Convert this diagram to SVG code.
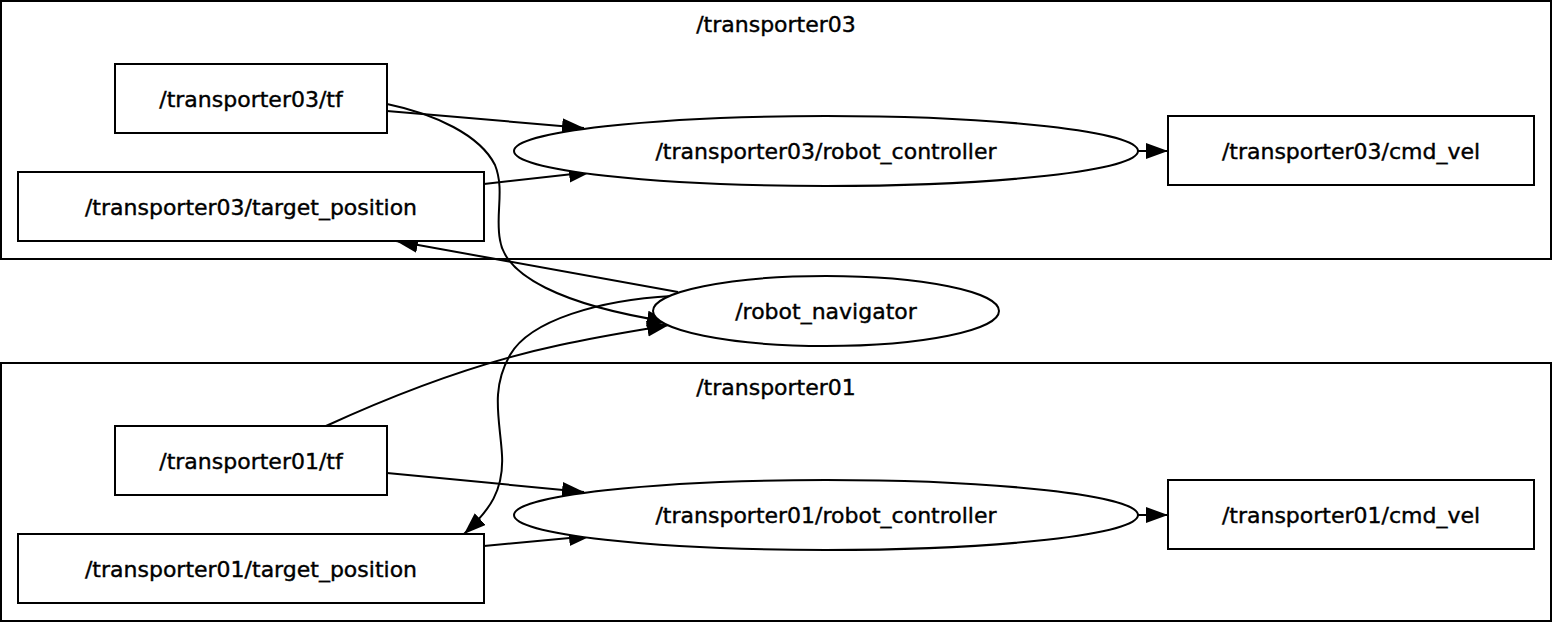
<svg xmlns="http://www.w3.org/2000/svg" width="1553" height="622" viewBox="0 0 1553 622">
<defs>
<marker id="arr" markerUnits="userSpaceOnUse" markerWidth="24" markerHeight="18" refX="22" refY="8" orient="auto">
<path d="M0,0 L22,8 L0,16 z" fill="#000"/>
</marker>
<style>
.cl{fill:none;stroke:#000;stroke-width:2}
.nd{fill:#fff;stroke:#000;stroke-width:2}
.e{fill:none;stroke:#000;stroke-width:2;marker-end:url(#arr)}
text{font-family:"DejaVu Sans","Liberation Sans",sans-serif;font-size:22px;text-anchor:middle;fill:#000;stroke:#000;stroke-width:0.4}
</style>
</defs>
<rect width="1553" height="622" fill="#fff"/>
<g id="cluster_transporter03">
<rect class="cl" x="1" y="1" width="1550" height="258"/>
<text x="776" y="32">/transporter03</text>
</g>
<g id="cluster_transporter01">
<rect class="cl" x="1" y="363" width="1550" height="258"/>
<text x="776" y="395">/transporter01</text>
</g>
<g id="edges">
<path class="e" d="M387,111 L584,128"/>
<path class="e" d="M484,184 L591,172"/>
<path class="e" d="M387,104 C435,114 480,135 495,165 C505,190 495,215 500,240 C505,275 560,305 669,322"/>
<path class="e" d="M678,292 L396,241"/>
<path class="e" d="M326,426 C400,392 480,362 560,345 C600,336 640,330 669,325"/>
<path class="e" d="M672,296 C600,300 530,320 510,355 C490,390 500,420 502,455 C504,490 490,510 464,534"/>
<path class="e" d="M387,473 L584,492"/>
<path class="e" d="M484,546 L591,536"/>
<path class="e" d="M1138,151 L1168,151"/>
<path class="e" d="M1138,515 L1168,515"/>
</g>
<g id="t03_tf">
<rect class="nd" x="115" y="64" width="272" height="69"/>
<text x="251" y="107">/transporter03/tf</text>
</g>
<g id="t03_target_position">
<rect class="nd" x="18" y="172" width="466" height="69"/>
<text x="251" y="215">/transporter03/target_position</text>
</g>
<g id="t03_robot_controller">
<ellipse class="nd" cx="826" cy="151" rx="312" ry="35"/>
<text x="826" y="159">/transporter03/robot_controller</text>
</g>
<g id="t03_cmd_vel">
<rect class="nd" x="1168" y="116" width="366" height="69"/>
<text x="1351" y="159">/transporter03/cmd_vel</text>
</g>
<g id="robot_navigator">
<ellipse class="nd" cx="826" cy="311" rx="173" ry="35"/>
<text x="826" y="319">/robot_navigator</text>
</g>
<g id="t01_tf">
<rect class="nd" x="115" y="426" width="272" height="69"/>
<text x="251" y="469">/transporter01/tf</text>
</g>
<g id="t01_target_position">
<rect class="nd" x="18" y="534" width="466" height="69"/>
<text x="251" y="577">/transporter01/target_position</text>
</g>
<g id="t01_robot_controller">
<ellipse class="nd" cx="826" cy="515" rx="312" ry="35"/>
<text x="826" y="523">/transporter01/robot_controller</text>
</g>
<g id="t01_cmd_vel">
<rect class="nd" x="1168" y="480" width="366" height="69"/>
<text x="1351" y="523">/transporter01/cmd_vel</text>
</g>
</svg>
